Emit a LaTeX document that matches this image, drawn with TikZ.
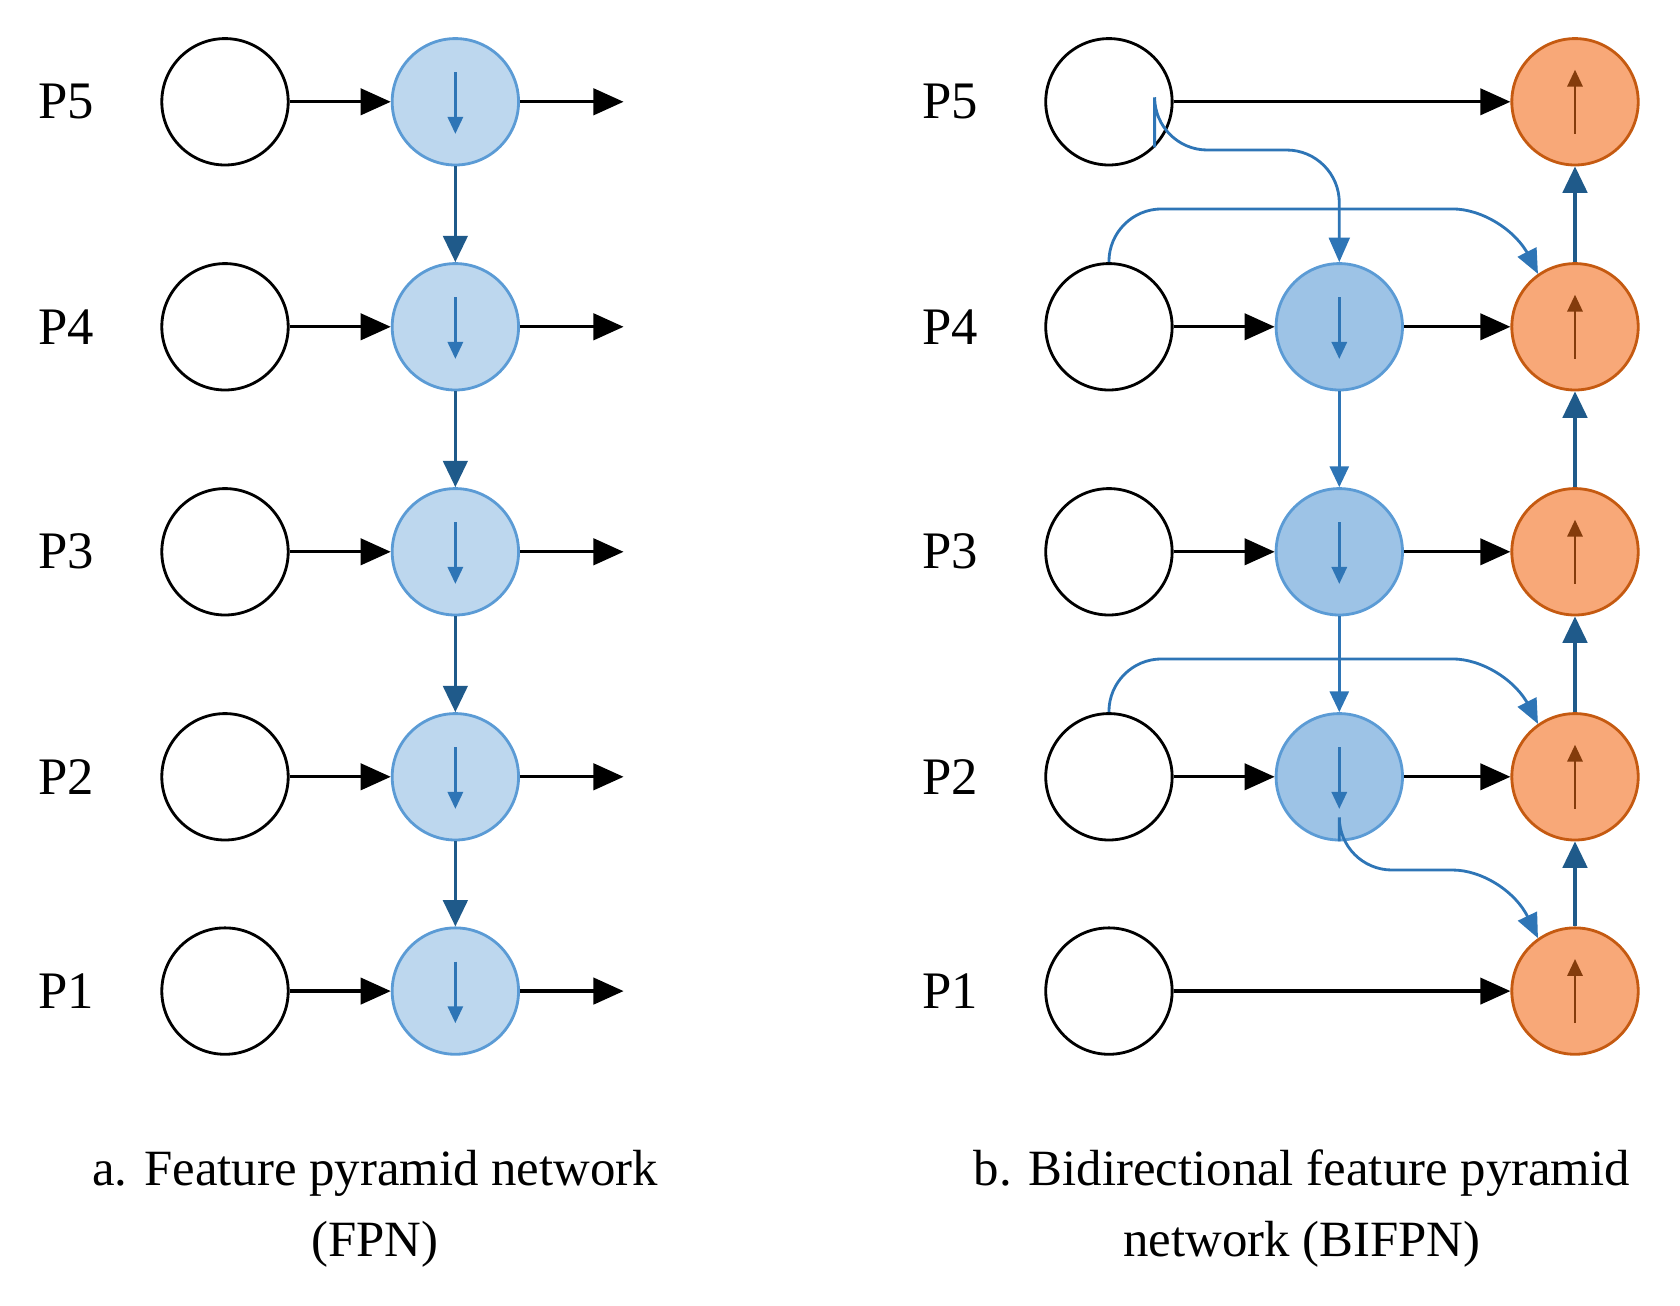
\documentclass[tikz,border=0pt]{standalone}
\usepackage{fontspec}
\setmainfont{Liberation Serif}
\usetikzlibrary{arrows.meta}
\definecolor{lb}{HTML}{BDD7EE}\definecolor{mb}{HTML}{9DC3E6}
\definecolor{bb}{HTML}{5B9BD5}\definecolor{ib}{HTML}{2E75B6}
\definecolor{db}{HTML}{1F5A8A}\definecolor{of}{HTML}{F8A878}
\definecolor{ob}{HTML}{C55A11}\definecolor{oi}{HTML}{843C0C}
\begin{document}
\begin{tikzpicture}[x=0.02cm,y=-0.02cm,
 c/.style={circle,draw,line width=1.5pt,minimum size=2.36cm,inner sep=0},
 w/.style={c,draw=black},
 l/.style={c,draw=bb,fill=lb},
 m/.style={c,draw=bb,fill=mb},
 o/.style={c,draw=ob,fill=of},
 lab/.style={font=\fontsize{28}{30}\selectfont},
 captxt/.style={font=\fontsize{27}{38}\selectfont,align=center},
 ar/.style={line width=1.7pt,-{Triangle[length=16pt,width=14pt]}},
 va/.style={ar,draw=db,-{Triangle[length=14pt,width=13pt]}},
 ca/.style={line width=1.5pt,draw=ib,rounded corners=28,-{Triangle[length=13pt,width=11pt]}},
 dn/.style={line width=1.5pt,draw=ib,-{Triangle[length=9pt,width=8pt]}},
 up/.style={line width=1.5pt,draw=oi,-{Triangle[length=9pt,width=8pt]}}]
\useasboundingbox (0,0) rectangle (1568,1218);
\foreach \i/\y in {5/95,4/305,3/515,2/725,1/925}{
 \node[lab] (la\i) at (62,\y) {P\i};
 \node[w] (wa\i) at (210,\y) {};
 \node[l] (ba\i) at (425,\y) {};
 \coordinate (ea\i) at (582,\y);
 \draw[ar] (wa\i) -- (ba\i);
 \draw[ar] (ba\i) -- (ea\i);
 \draw[dn] ([yshift=0.55cm]ba\i.center) -- ([yshift=-0.6cm]ba\i.center);
 \node[lab] (lb\i) at (887,\y) {P\i};
 \node[w] (wb\i) at (1035,\y) {};
 \node[o] (ob\i) at (1470,\y) {};
 \draw[up] ([yshift=-0.6cm]ob\i.center) -- ([yshift=0.6cm]ob\i.center);
}
\foreach \i/\y in {4/305,3/515,2/725}{
 \node[m] (bb\i) at (1250,\y) {};
 \draw[ar] (wb\i) -- (bb\i);
 \draw[ar] (bb\i) -- (ob\i);
 \draw[dn] ([yshift=0.55cm]bb\i.center) -- ([yshift=-0.6cm]bb\i.center);
}
\draw[ar] (wb5) -- (ob5);
\draw[ar] (wb1) -- (ob1);
\draw[va] (ba5) -- (ba4);
\draw[va] (ba4) -- (ba3);
\draw[va] (ba3) -- (ba2);
\draw[va] (ba2) -- (ba1);
\draw[va] (ob1) -- (ob2);
\draw[va] (ob2) -- (ob3);
\draw[va] (ob3) -- (ob4);
\draw[va] (ob4) -- (ob5);
\draw[ca,-{Triangle[length=11pt,width=10pt]}] (bb4) -- (bb3);
\draw[ca,-{Triangle[length=11pt,width=10pt]}] (bb3) -- (bb2);
\draw[ca] (wb5.-45) |- (1250,140) -- (bb4.north);
\draw[ca] (wb4.north) |- (1405,195) -- (ob4.125);
\draw[ca] (wb2.north) |- (1405,615) -- (ob2.125);
\draw[ca] (bb2.south) |- (1405,812) -- (ob1.125);
\node[captxt] (ca) at (350,1128) {a. Feature pyramid network\\(FPN)};
\node[captxt] (cb) at (1215,1128) {b. Bidirectional feature pyramid\\network (BIFPN)};
\end{tikzpicture}
\end{document}
